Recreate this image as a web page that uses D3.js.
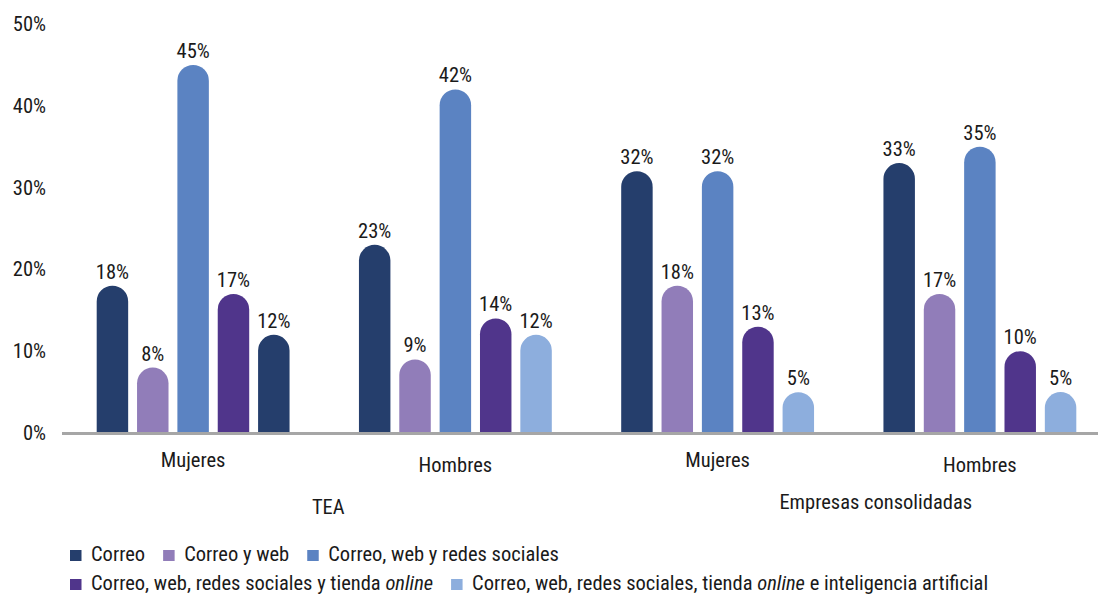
<!DOCTYPE html>
<html lang="es">
<head>
  <meta charset="UTF-8">
  <title>Uso de canales digitales</title>
  <style>
    body {
      margin: 0;
      background: #fff;
      font-family: 'Roboto Condensed', 'Liberation Sans Narrow', Roboto, sans-serif;
    }
    svg text { fill: #1a1a1a; font-size: 20.5px; }
  </style>
</head>
<body>
  <div id="chart"></div>

  <script src="https://d3js.org/d3.v7.min.js"></script>

  <script>
    // datos
    const groups = ['TEA|Mujeres', 'TEA|Hombres', 'EC|Mujeres', 'EC|Hombres'];
    const groupLabels = ['Mujeres', 'Hombres', 'Mujeres', 'Hombres'];
    const sections = ['TEA', 'Empresas consolidadas'];
    const series = ['Correo', 'Correo y web', 'Correo, web y redes sociales',
      'Correo, web, redes sociales y tienda online',
      'Correo, web, redes sociales, tienda online e inteligencia artificial'];
    const correo = [18, 23, 32, 33];
    const correoWeb = [8, 9, 18, 17];
    const correoWebRedes = [45, 42, 32, 35];
    const tiendaOnline = [17, 14, 13, 10];
    const inteligenciaArtificial = [12, 12, 5, 5];
    const yTicks = [0, 10, 20, 30, 40, 50];

    const values = [correo, correoWeb, correoWebRedes, tiendaOnline, inteligenciaArtificial];
    const colors = ['#253e6c', '#917db9', '#5b83c2', '#50358b', '#8daedd'];

    const width = 1098, height = 596;
    const svg = d3.select('#chart').append('svg')
      .attr('width', width)
      .attr('height', height);

    const x0 = d3.scaleBand().domain(groups).range([62, 1111]).paddingInner(0).paddingOuter(0);
    const x1 = d3.scaleBand().domain(series).range([0, x0.bandwidth()])
      .paddingInner(0.22).paddingOuter(0.86);
    const y = d3.scaleLinear().domain([0, 50]).range([433, 24]);

    // eje y (solo etiquetas)
    svg.append('g').selectAll('text')
      .data(yTicks)
      .join('text')
      .attr('x', 46)
      .attr('y', d => y(d) + 7)
      .attr('text-anchor', 'end')
      .text(d => d + '%');

    const rows = [];
    groups.forEach((g, gi) => {
      series.forEach((s, si) => {
        rows.push({ g, gi, s, si, v: values[si][gi] });
      });
    });

    function barPath(d) {
      const x = x0(d.g) + x1(d.s), w = x1.bandwidth();
      const top = y(d.v), bottom = y(0);
      const r = Math.min(w / 2, bottom - top);
      return `M${x},${bottom}V${top + r}A${w / 2},${r} 0 0 1 ${x + w},${top + r}V${bottom}Z`;
    }

    svg.append('g').selectAll('path')
      .data(rows)
      .join('path')
      .attr('d', barPath)
      // en el original la última barra de TEA-Mujeres aparece con el color de "Correo"
      .attr('fill', d => (d.gi === 0 && d.si === 4) ? colors[0] : colors[d.si]);

    svg.append('g').selectAll('text')
      .data(rows)
      .join('text')
      .attr('x', d => x0(d.g) + x1(d.s) + x1.bandwidth() / 2)
      .attr('y', d => y(d.v) - 7)
      .attr('text-anchor', 'middle')
      .text(d => d.v + '%');

    // eje x
    svg.append('line')
      .attr('x1', 62).attr('x2', width)
      .attr('y1', y(0) + 0.5).attr('y2', y(0) + 0.5)
      .attr('stroke', '#a6a6a6')
      .attr('stroke-width', 3);

    svg.append('g').selectAll('text')
      .data(groups)
      .join('text')
      .attr('x', d => x0(d) + x0.bandwidth() / 2)
      .attr('y', (d, i) => i % 2 ? 472 : 467)
      .attr('text-anchor', 'middle')
      .text((d, i) => groupLabels[i]);

    svg.append('g').selectAll('text')
      .data(sections)
      .join('text')
      .attr('x', (d, i) => i === 0 ? (x0(groups[0]) + x0(groups[1]) + x0.bandwidth()) / 2 + 4
                                    : (x0(groups[2]) + x0(groups[3]) + x0.bandwidth()) / 2 + 27)
      .attr('y', (d, i) => i === 0 ? 514 : 509)
      .attr('text-anchor', 'middle')
      .text(d => d);

    // leyenda
    const legendRows = [[0, 1, 2], [3, 4]];
    legendRows.forEach((row, ri) => {
      let cx = 70;
      const base = 561 + ri * 29;
      row.forEach(si => {
        const item = svg.append('g');
        item.append('rect')
          .attr('x', cx).attr('y', base - 11)
          .attr('width', 11.5).attr('height', 11)
          .attr('fill', colors[si]);
        const t = item.append('text')
          .attr('x', cx + 21)
          .attr('y', base);
        const parts = series[si].split('online');
        t.append('tspan').text(parts[0]);
        if (parts.length > 1) {
          t.append('tspan').style('font-style', 'italic').text('online');
          t.append('tspan').text(parts[1]);
        }
        cx += 21 + t.node().getComputedTextLength() + 18;
      });
    });
  </script>
</body>
</html>
